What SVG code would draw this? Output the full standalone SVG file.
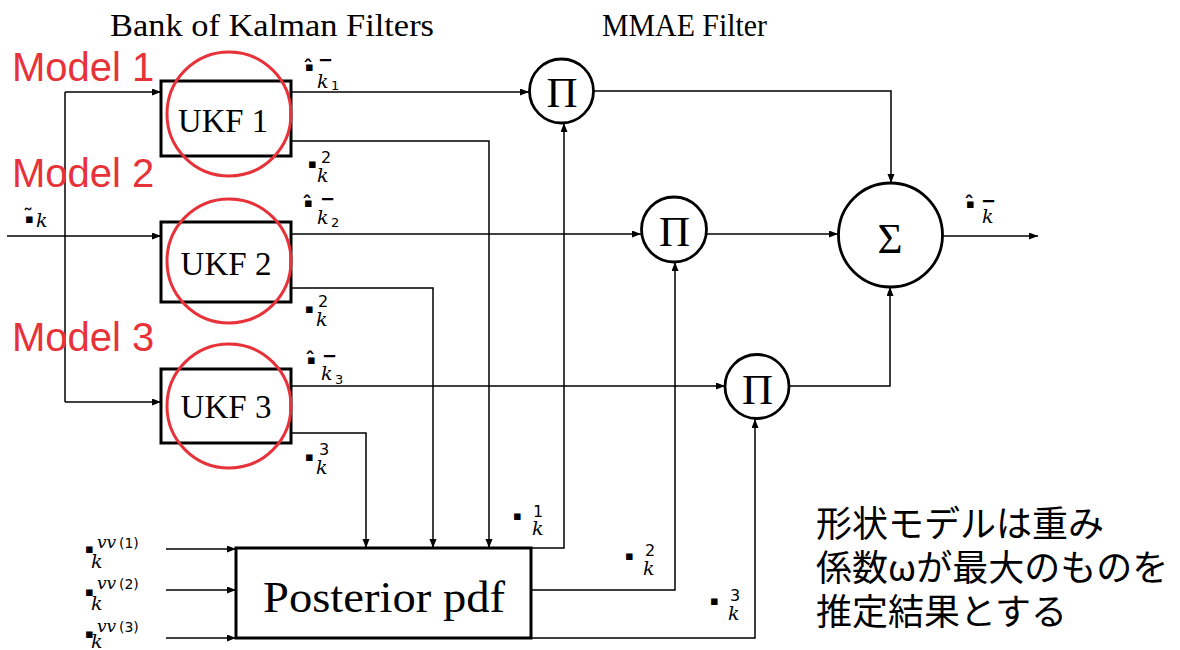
<svg xmlns="http://www.w3.org/2000/svg" width="1180" height="650" viewBox="0 0 1180 650">
<defs>
<marker id="ah" markerUnits="userSpaceOnUse" markerWidth="10" markerHeight="8" refX="9" refY="3.5" orient="auto">
<path d="M0,0 L9,3.5 L0,7 z" fill="#000"/>
</marker>
<style>
.box{fill:#fff;stroke:#000;stroke-width:3}
.circ{fill:#fff;stroke:#000;stroke-width:2.8}
.red{fill:none;stroke:#e8323a;stroke-width:3}
.con{fill:none;stroke:#000;stroke-width:1.5}
.arr{marker-end:url(#ah)}
.title{font-family:"Liberation Serif",serif;font-size:32px;fill:#000}
.ukf{font-family:"Liberation Serif",serif;font-size:34px;fill:#000;text-anchor:middle}
.op{font-family:"Liberation Serif",serif;font-size:43px;fill:#000;text-anchor:middle}
.model{font-family:"Liberation Sans",sans-serif;font-size:40px;fill:#e8323a}
.lab{font-family:"DejaVu Sans",sans-serif;font-size:14px;fill:#000}
text tspan.sq{font-size:13px}
text tspan.acc{font-size:20px;font-weight:bold}
text tspan.bar{font-size:18px;font-weight:bold}
text tspan.kk{font-family:"DejaVu Serif",serif;font-style:italic;font-size:19px}
text tspan.sub{font-size:13px}
text tspan.sup{font-size:16px}
text tspan.vv{font-family:"DejaVu Serif",serif;font-style:italic;font-size:17px}
text tspan.par{font-size:14px}
.jp{font-family:"Noto Sans CJK JP",sans-serif;font-size:36px;fill:#000}
</style>
</defs>
<rect width="1180" height="650" fill="#fff"/>

<g id="connectors">
<path class="con arr" d="M7,236 H161"/>
<path class="con" d="M65,92 V402"/>
<path class="con arr" d="M65,92 H161"/>
<path class="con arr" d="M65,402 H161"/>
<path class="con arr" d="M291,92 H529"/>
<path class="con arr" d="M291,141 H489 V548"/>
<path class="con arr" d="M291,234 H641"/>
<path class="con arr" d="M291,288 H433 V548"/>
<path class="con arr" d="M291,386 H725"/>
<path class="con arr" d="M291,433 H366 V548"/>
<path class="con arr" d="M594,91 H891 V183"/>
<path class="con arr" d="M707,234 H838"/>
<path class="con arr" d="M943,236 H1038"/>
<path class="con arr" d="M789,386 H890 V287"/>
<path class="con arr" d="M531,548 H564 V123"/>
<path class="con arr" d="M531,590 H675 V262"/>
<path class="con arr" d="M531,638 H755 V419"/>
<path class="con arr" d="M166,549 H236"/>
<path class="con arr" d="M166,590 H236"/>
<path class="con arr" d="M166,638 H236"/>
</g>

<g id="titles">
<text class="title" x="110" y="36" textLength="324" lengthAdjust="spacingAndGlyphs">Bank of Kalman Filters</text>
<text class="title" x="602" y="36" textLength="165" lengthAdjust="spacingAndGlyphs">MMAE Filter</text>
</g>

<g id="ukf1">
<rect class="box" x="161" y="81" width="130" height="75"/>
<text class="ukf" x="223" y="132" textLength="90" lengthAdjust="spacingAndGlyphs">UKF 1</text>
<circle class="red" cx="229" cy="114" r="62"/>
</g>
<g id="ukf2">
<rect class="box" x="161" y="222" width="130" height="80"/>
<text class="ukf" x="226" y="275" textLength="91" lengthAdjust="spacingAndGlyphs">UKF 2</text>
<circle class="red" cx="229" cy="261" r="62"/>
</g>
<g id="ukf3">
<rect class="box" x="161" y="369" width="130" height="74"/>
<text class="ukf" x="226" y="418" textLength="91" lengthAdjust="spacingAndGlyphs">UKF 3</text>
<circle class="red" cx="229" cy="406" r="62"/>
</g>

<g id="models">
<text class="model" x="12" y="81">Model 1</text>
<text class="model" x="12" y="187">Model 2</text>
<text class="model" x="12" y="351">Model 3</text>
</g>

<g id="pi1">
<circle class="circ" cx="561.5" cy="91" r="32"/>
<text class="op" x="562" y="107">Π</text>
</g>
<g id="pi2">
<circle class="circ" cx="674" cy="229.5" r="32.5"/>
<text class="op" x="674.5" y="246">Π</text>
</g>
<g id="pi3">
<circle class="circ" cx="757" cy="386.5" r="32"/>
<text class="op" x="757.5" y="404">Π</text>
</g>
<g id="sigma">
<circle class="circ" cx="890.5" cy="235" r="52"/>
<text class="op" x="890" y="253">Σ</text>
</g>

<g id="posterior">
<rect class="box" x="236" y="548" width="295" height="90"/>
<text x="384" y="612" text-anchor="middle" font-family="Liberation Serif, serif" font-size="44" textLength="242" lengthAdjust="spacingAndGlyphs">Posterior pdf</text>
</g>

<g id="labels">
<text class="lab"><tspan class="acc" x="23" y="223">˜</tspan><tspan class="sq" x="25" y="223">▪</tspan><tspan class="kk" x="36" y="227">k</tspan></text>
<text class="lab"><tspan class="acc" x="303" y="74">ˆ</tspan><tspan class="sq" x="305" y="71">▪</tspan><tspan class="bar" x="318" y="66">−</tspan><tspan class="kk" x="317" y="88">k</tspan><tspan class="sub" x="331" y="90">1</tspan></text>
<text class="lab"><tspan class="sq" x="308" y="168">▪</tspan><tspan class="sup" x="321" y="163">2</tspan><tspan class="kk" x="317" y="182">k</tspan></text>
<text class="lab"><tspan class="acc" x="302" y="210">ˆ</tspan><tspan class="sq" x="304" y="207">▪</tspan><tspan class="bar" x="320" y="205">−</tspan><tspan class="kk" x="317" y="224">k</tspan><tspan class="sub" x="331" y="227">2</tspan></text>
<text class="lab"><tspan class="sq" x="305" y="313">▪</tspan><tspan class="sup" x="318" y="307">2</tspan><tspan class="kk" x="316" y="326">k</tspan></text>
<text class="lab"><tspan class="acc" x="305" y="366">ˆ</tspan><tspan class="sq" x="307" y="364">▪</tspan><tspan class="bar" x="322" y="362">−</tspan><tspan class="kk" x="321" y="380">k</tspan><tspan class="sub" x="335" y="384">3</tspan></text>
<text class="lab"><tspan class="sq" x="305" y="461">▪</tspan><tspan class="sup" x="319" y="455">3</tspan><tspan class="kk" x="316" y="474">k</tspan></text>
<text class="lab"><tspan class="acc" x="964" y="210">ˆ</tspan><tspan class="sq" x="966" y="208">▪</tspan><tspan class="bar" x="981" y="207">−</tspan><tspan class="kk" x="982" y="223">k</tspan></text>
<text class="lab"><tspan class="sq" x="513" y="520">▪</tspan><tspan class="sup" x="533" y="517">1</tspan><tspan class="kk" x="532" y="535">k</tspan></text>
<text class="lab"><tspan class="sq" x="625" y="560">▪</tspan><tspan class="sup" x="645" y="556">2</tspan><tspan class="kk" x="643" y="575">k</tspan></text>
<text class="lab"><tspan class="sq" x="710" y="605">▪</tspan><tspan class="sup" x="730" y="601">3</tspan><tspan class="kk" x="728" y="620">k</tspan></text>
<text class="lab"><tspan class="sq" x="85" y="553">▪</tspan><tspan class="vv" x="97" y="548">vv</tspan><tspan class="par" x="119" y="548">(1)</tspan><tspan class="kk" x="91" y="568">k</tspan></text>
<text class="lab"><tspan class="sq" x="85" y="596">▪</tspan><tspan class="vv" x="97" y="589">vv</tspan><tspan class="par" x="119" y="589">(2)</tspan><tspan class="kk" x="91" y="610">k</tspan></text>
<text class="lab"><tspan class="sq" x="85" y="638">▪</tspan><tspan class="vv" x="97" y="632">vv</tspan><tspan class="par" x="119" y="632">(3)</tspan><tspan class="kk" x="91" y="648">k</tspan></text>
</g>

<g id="note">
<text class="jp" x="816" y="537">形状モデルは重み</text>
<text class="jp" x="816" y="581">係数ωが最大のものを</text>
<text class="jp" x="816" y="625">推定結果とする</text>
</g>
</svg>
